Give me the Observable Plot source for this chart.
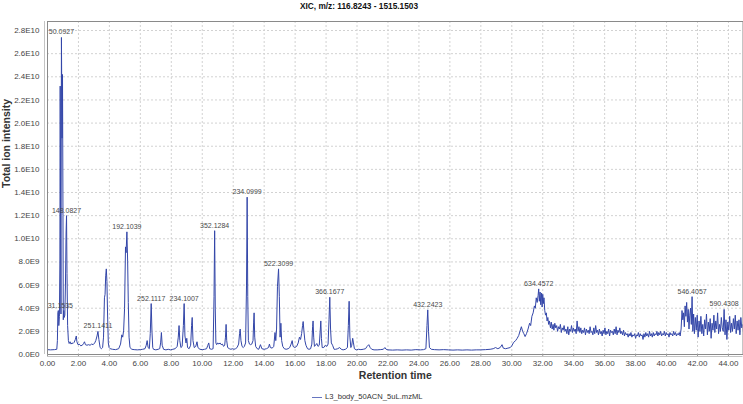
<!DOCTYPE html>
<html>
<head>
<meta charset="utf-8">
<script src="https://cdn.jsdelivr.net/npm/d3@7"></script>
<script src="https://cdn.jsdelivr.net/npm/@observablehq/plot@0.6"></script>
<style>
  html, body { margin: 0; padding: 0; background: #fff; }
  #wrap { position: relative; width: 743px; height: 404px; font-family: "Liberation Sans", Arial, sans-serif; }
  #title { position: absolute; left: 0; top: 0; width: 718px; height: 12px; line-height: 12px; text-align: center; font-size: 8.3px; font-weight: bold; color: #111; }
  #chart { position: absolute; left: 0; top: 12px; }
  #legend { position: absolute; left: 312px; top: 391px; height: 12px; line-height: 12px; font-size: 7.6px; color: #333; white-space: nowrap; }
  #legend .sw { display: inline-block; width: 10px; height: 0; border-top: 1.3px solid #6675c0; vertical-align: middle; margin-right: 3px; }
</style>
</head>
<body>
<div id="wrap">
  <div id="title">XIC, m/z: 116.8243 - 1515.1503</div>
  <div id="chart"></div>
  <div id="legend"><span class="sw"></span>L3_body_50ACN_5uL.mzML</div>
</div>
<script>
// Retention time (min), total ion intensity (x 1E9)
const segEarly = [
  [0.00,0.42],[0.20,0.40],[0.45,0.42],[0.60,0.45],[0.64,1.2],[0.67,3.6],[0.70,3.8],[0.73,2.5],[0.77,3.3],
  [0.80,8.0],[0.82,23.2],[0.85,10.0],[0.87,3.5],[0.90,27.4],[0.94,18.7],[0.97,24.2],[1.00,12.0],[1.02,3.0],
  [1.05,3.8],[1.08,3.2],[1.12,3.4],[1.16,6.0],[1.20,10.5],[1.23,12.0],[1.26,7.0],[1.30,2.5],[1.35,1.2],
  [1.40,0.95],[1.46,1.1],[1.52,0.9],[1.58,1.0],[1.65,0.95],[1.72,1.05],[1.80,1.3],[1.86,1.6],[1.90,1.1],
  [1.97,0.85],[2.05,0.9],[2.15,0.75],[2.25,0.8],[2.33,0.95],[2.39,1.1],[2.45,0.85],[2.55,0.8],[2.65,0.85],
  [2.75,0.8],[2.85,0.9],[2.95,0.85],[3.05,1.0],[3.12,1.2],[3.20,1.6],[3.26,2.0],[3.32,1.3],[3.40,0.6],
  [3.48,0.5],[3.56,0.6],[3.62,1.5],[3.68,4.9],[3.72,5.2],[3.76,6.8],[3.80,7.4],[3.84,6.3],[3.88,3.5],
  [3.93,1.0],[3.98,0.6],[4.05,0.5],[4.20,0.45],[4.40,0.42],[4.60,0.5],[4.72,0.9],[4.80,1.7],[4.86,1.5],
  [4.92,2.1],[4.98,4.0],[5.04,9.3],[5.08,8.8],[5.13,10.6],[5.18,8.0],[5.22,4.5],[5.27,1.5],[5.33,0.6],
  [5.45,0.45],[5.60,0.42],[5.80,0.4],[6.00,0.42],[6.15,0.45],[6.30,0.5],[6.38,0.8],[6.44,1.2],[6.50,0.6],
  [6.58,0.5],[6.64,1.8],[6.70,4.4],[6.75,2.0],[6.80,0.6],[6.85,0.45],[7.00,0.4],[7.15,0.45],[7.25,0.5],
  [7.31,1.0],[7.36,1.9],[7.41,0.8],[7.50,0.45],[7.65,0.4],[7.80,0.45],[7.95,0.4],[8.10,0.45],[8.25,0.5],
  [8.38,0.7],[8.45,1.5],[8.50,2.5],[8.55,1.2],[8.62,0.6],[8.70,0.7],[8.78,2.5],[8.83,4.4],[8.88,1.6],
  [8.95,1.0],[9.00,1.4],[9.05,0.6],[9.15,0.5],[9.25,0.8],[9.31,2.5],[9.35,3.2],[9.40,1.2],[9.48,0.6],
  [9.58,0.7],[9.66,1.1],[9.72,0.6],[9.85,0.45],[10.00,0.42]
];
const segMiddle = [
  [10.15,0.45],[10.28,0.5],[10.36,0.8],[10.42,1.0],[10.48,0.5],[10.60,0.45],[10.70,0.5],[10.76,5.0],
  [10.80,10.7],[10.84,4.0],[10.88,1.0],[10.93,0.85],[11.00,1.0],[11.08,0.9],[11.15,1.0],[11.22,0.85],
  [11.30,0.9],[11.38,0.7],[11.45,0.8],[11.50,1.5],[11.54,2.6],[11.58,1.2],[11.64,0.6],[11.75,0.5],
  [11.85,0.45],[11.95,0.5],[12.05,0.45],[12.15,0.5],[12.25,0.6],[12.35,0.9],[12.41,1.8],[12.45,2.2],
  [12.50,1.2],[12.57,0.7],[12.65,0.6],[12.72,0.7],[12.80,1.0],[12.86,6.0],[12.90,13.6],[12.94,5.0],
  [12.98,1.2],[13.05,0.9],[13.12,0.85],[13.20,0.9],[13.28,1.2],[13.32,2.8],[13.35,3.6],[13.39,1.5],
  [13.45,0.7],[13.55,0.5],[13.65,0.45],[13.76,0.85],[13.85,0.5],[14.00,0.45],[14.15,0.5],[14.28,0.6],
  [14.34,0.9],[14.40,0.6],[14.52,0.55],[14.62,0.7],[14.70,1.9],[14.75,1.2],[14.80,2.2],[14.86,5.9],
  [14.93,7.4],[14.98,5.0],[15.03,1.5],[15.08,2.7],[15.13,1.2],[15.20,0.7],[15.30,0.5],[15.42,0.45],
  [15.55,0.5],[15.65,0.6],[15.74,0.9],[15.81,1.2],[15.87,0.7],[15.98,0.6],[16.10,0.7],[16.20,1.0],
  [16.28,1.5],[16.35,1.3],[16.42,1.8],[16.48,2.5],[16.52,2.85],[16.57,2.0],[16.63,1.2],[16.70,0.8],
  [16.80,0.5],[16.90,0.45],[17.00,0.5],[17.08,0.9],[17.13,2.4],[17.16,2.9],[17.20,1.5],[17.25,0.7],
  [17.32,0.8],[17.40,0.95],[17.48,0.7],[17.56,0.8],[17.62,2.0],[17.66,2.9],[17.70,1.4],[17.75,0.6],
  [17.85,0.6],[17.95,0.8],[18.05,0.7],[18.13,0.9],[18.19,3.0],[18.24,4.95],[18.29,2.2],[18.34,1.0],
  [18.42,0.8],[18.52,0.45],[18.62,0.45],[18.75,0.5],[18.88,0.6],[18.98,0.45],[19.10,0.4],[19.25,0.45],
  [19.38,0.6],[19.44,2.5],[19.49,4.6],[19.54,1.5],[19.60,0.6],[19.66,0.8],[19.72,1.4],[19.77,1.0],
  [19.83,0.5],[19.95,0.4],[20.10,0.45],[20.25,0.42],[20.40,0.45],[20.55,0.5],[20.65,0.7],[20.76,0.85],
  [20.85,0.6],[20.95,0.45],[21.10,0.4],[21.30,0.4],[21.50,0.42],[21.70,0.45],[21.80,0.6],[21.88,0.45],
  [22.00,0.4],[22.30,0.38],[22.60,0.4],[22.90,0.38],[23.20,0.4],[23.50,0.38],[23.80,0.42],[24.10,0.4],
  [24.30,0.42],[24.45,0.5],[24.52,2.5],[24.57,3.86],[24.62,2.0],[24.68,0.6],[24.80,0.45],[25.00,0.42]
];
const segHump = [
  [25.30,0.4],[25.60,0.42],[25.90,0.4],[26.20,0.38],[26.50,0.4],[26.80,0.38],[27.10,0.4],[27.40,0.38],
  [27.70,0.4],[28.00,0.4],[28.30,0.42],[28.60,0.45],[28.80,0.5],[28.95,0.6],[29.10,0.5],[29.25,0.6],
  [29.37,0.85],[29.45,0.55],[29.60,0.5],[29.75,0.55],[29.90,0.6],[30.00,0.75],[30.12,1.05],[30.25,1.2],
  [30.35,1.4],[30.45,1.65],[30.55,2.1],[30.62,2.4],[30.70,2.0],[30.78,1.8],[30.86,1.55],[30.95,1.8],
  [31.05,2.2],[31.15,2.7],[31.22,2.5],[31.30,3.3],[31.38,3.6],[31.46,4.2],[31.52,4.0],[31.58,4.9],
  [31.64,4.5],[31.70,5.1],[31.74,5.67],[31.78,4.6],[31.83,5.4],[31.87,4.3],[31.92,5.3],[31.96,4.1],
  [32.00,5.2],[32.04,4.4],[32.08,4.9],[32.13,3.8],[32.18,3.4],[32.23,3.6],[32.28,2.9],[32.33,3.2],
  [32.38,2.6],[32.43,2.9]
];
const segPlateau = [
  [32.50,2.3],[32.55,2.8],[32.61,2.2],[32.67,2.6],[32.72,2.1],[32.78,2.7],[32.84,2.3],[32.90,2.5],
  [32.96,2.0],[33.02,2.4],[33.08,2.2],[33.14,2.6],[33.20,1.9],[33.26,2.3],[33.32,2.1],[33.38,2.5],
  [33.44,2.0],[33.50,2.2],[33.56,1.8],[33.62,2.4],[33.68,1.7],[33.74,2.2],[33.80,2.0],[33.86,2.5],
  [33.92,1.9],[33.98,2.3],[34.04,2.0],[34.10,2.2],[34.16,1.8],[34.22,2.9],[34.28,2.0],[34.34,2.4],
  [34.40,1.9],[34.46,2.3],[34.52,1.8],[34.58,2.1],[34.64,1.9],[34.70,2.3],[34.76,1.7],[34.82,2.2],
  [34.88,1.9],[34.94,2.1],[35.00,1.8],[35.06,2.4],[35.12,1.9],[35.18,2.0],[35.24,1.7],[35.30,2.3],
  [35.36,1.8],[35.42,2.5],[35.48,1.9],[35.54,2.1],[35.60,1.7],[35.66,2.2],[35.72,1.8],[35.78,2.0],
  [35.84,1.6],[35.90,2.1],[35.96,1.8],[36.02,2.3],[36.08,1.7],[36.14,2.0],[36.20,1.8],[36.26,2.2],
  [36.32,1.6],[36.38,2.1],[36.44,1.9],[36.50,2.0],[36.56,1.7],[36.62,2.2],[36.68,1.8],[36.74,2.4],
  [36.80,1.7],[36.86,2.1],[36.92,1.9],[36.98,2.3],[37.04,1.8],[37.10,2.0],[37.16,1.7],[37.22,2.1],
  [37.28,1.6],[37.34,1.9],[37.40,1.7],[37.46,1.8],[37.52,1.5],[37.58,1.8],[37.64,1.6],[37.70,1.9],
  [37.76,1.5],[37.82,1.7],[37.88,1.6],[37.94,1.8],[38.00,1.4],[38.06,1.7],[38.12,1.6],[38.18,1.9],
  [38.24,1.5],[38.30,1.8],[38.36,1.6],[38.42,1.7],[38.48,1.3],[38.54,1.8],[38.60,1.5],[38.66,1.9],
  [38.72,1.6],[38.78,1.8],[38.84,1.5],[38.90,2.0],[38.96,1.6],[39.02,1.8],[39.08,1.5],[39.14,1.9],
  [39.20,1.6],[39.26,1.8],[39.32,1.7],[39.38,2.0],[39.44,1.6],[39.50,1.9],[39.56,1.7],[39.62,2.0],
  [39.68,1.6],[39.74,1.8],[39.80,1.7],[39.86,2.0],[39.92,1.6],[39.98,1.9],[40.04,1.7],[40.10,1.8],
  [40.16,1.5],[40.22,1.9],[40.28,1.7],[40.34,1.8],[40.40,1.6],[40.46,2.0],[40.52,1.7],[40.58,1.9],
  [40.64,1.6],[40.70,1.8],[40.76,1.7],[40.82,1.9],[40.88,1.6],[40.94,2.2]
];
const segLate = [
  [41.00,3.8],[41.05,3.0],[41.10,3.6],[41.15,2.4],[41.20,4.2],[41.25,3.3],[41.30,4.5],[41.35,2.8],
  [41.40,3.9],[41.45,2.2],[41.50,3.4],[41.55,4.0],[41.60,2.6],[41.65,5.0],[41.70,2.0],[41.75,3.5],
  [41.80,1.8],[41.86,3.2],[41.92,2.1],[41.98,3.4],[42.04,1.5],[42.10,2.9],[42.16,2.0],[42.22,3.3],
  [42.28,1.8],[42.34,2.6],[42.40,1.6],[42.46,3.0],[42.52,2.2],[42.58,3.5],[42.64,1.7],[42.70,2.8],
  [42.76,2.0],[42.82,3.1],[42.88,1.4],[42.94,2.7],[43.00,2.1],[43.06,3.4],[43.12,1.9],[43.18,2.9],
  [43.24,2.2],[43.30,3.6],[43.36,1.8],[43.42,2.6],[43.48,2.0],[43.54,3.2],[43.60,2.3],[43.66,2.0],
  [43.72,3.9],[43.78,1.7],[43.84,3.0],[43.90,1.3],[43.96,2.8],[44.02,2.1],[44.08,3.3],[44.14,1.9],
  [44.20,2.7],[44.26,2.0],[44.32,3.1],[44.38,2.2],[44.44,3.4],[44.50,1.8],[44.56,2.9],[44.62,2.1],
  [44.68,3.0],[44.74,1.7],[44.80,3.2],[44.86,2.3],[44.92,2.6],[44.95,2.0]
];

const peakLabels = ["31.1535","50.0927","148.0827","251.1411","192.1039","252.1117","234.1007","352.1284",
  "234.0999","522.3099","366.1677","432.2423","634.4572","546.4057","590.4308"];
const peakTimes = [0.70,0.90,1.23,3.26,5.13,6.70,8.83,10.80,12.90,14.93,18.24,24.57,31.74,41.65,43.72];
const peakIntensities = [3.8,27.4,12.0,2.0,10.6,4.4,4.4,10.7,13.6,7.4,4.95,3.86,5.67,5.0,3.9];

const xTicks = [0,2,4,6,8,10,12,14,16,18,20,22,24,26,28,30,32,34,36,38,40,42,44];
const yTicks = [0,2,4,6,8,10,12,14,16,18,20,22,24,26,28];

const ticData = [...segEarly, ...segMiddle, ...segHump, ...segPlateau, ...segLate].map(([t, v]) => ({t, v}));
const peaks = peakLabels.map((label, i) => ({label, t: peakTimes[i], v: peakIntensities[i]}));

const fmtY = d => d === 0 ? "0.0E0" : d >= 10 ? (d / 10).toFixed(1) + "E10" : d.toFixed(1) + "E9";
const lineColor = "#3346a8";
const gridStyle = {stroke: "#d2d2d2", strokeOpacity: 1, strokeDasharray: "2,2"};

const chart = Plot.plot({
  width: 743,
  height: 373,
  marginTop: 9,
  marginBottom: 31,
  marginLeft: 47,
  marginRight: 0.5,
  style: {fontFamily: "'Liberation Sans', Arial, sans-serif", fontSize: "8px", color: "#444", background: "#fff", overflow: "visible"},
  x: {domain: [0, 44.94]},
  y: {domain: [0, 28.78]},
  marks: [
    Plot.gridX(xTicks, gridStyle),
    Plot.gridY(yTicks, gridStyle),
    Plot.ruleY([0], {dy: 2, stroke: "#c4c4c4"}),
    Plot.ruleX([0], {dx: -3, stroke: "#c4c4c4"}),
    Plot.line(ticData, {x: "t", y: "v", stroke: lineColor, strokeWidth: 1, clip: true}),
    Plot.frame({stroke: "#8a8a8a"}),
    Plot.text(peaks.filter(d => d.label !== "31.1535"), {x: "t", y: "v", text: "label", dy: -3, lineAnchor: "bottom", fontSize: 7, fill: "#4a4a4a"}),
    Plot.text(peaks.filter(d => d.label === "31.1535"), {x: "t", y: "v", text: "label", dx: 2, dy: -3, lineAnchor: "bottom", fontSize: 7, fill: "#4a4a4a"}),
    Plot.axisX(xTicks, {tickSize: 2, tickPadding: 4, tickFormat: d => d.toFixed(2), stroke: "#999", fill: "#444", label: null}),
    Plot.axisY(yTicks, {tickSize: 0, tickPadding: 8, tickFormat: fmtY, fill: "#444", label: null}),
    Plot.text(["Retention time"], {text: d => d, frameAnchor: "bottom", dy: 24, fontWeight: "bold", fontSize: 10.5, fill: "#333"}),
    Plot.text(["Total ion intensity"], {text: d => d, frameAnchor: "left", dx: -40.5, rotate: -90, fontWeight: "bold", fontSize: 10.5, fill: "#333"})
  ]
});
document.getElementById("chart").appendChild(chart);
</script>
</body>
</html>
